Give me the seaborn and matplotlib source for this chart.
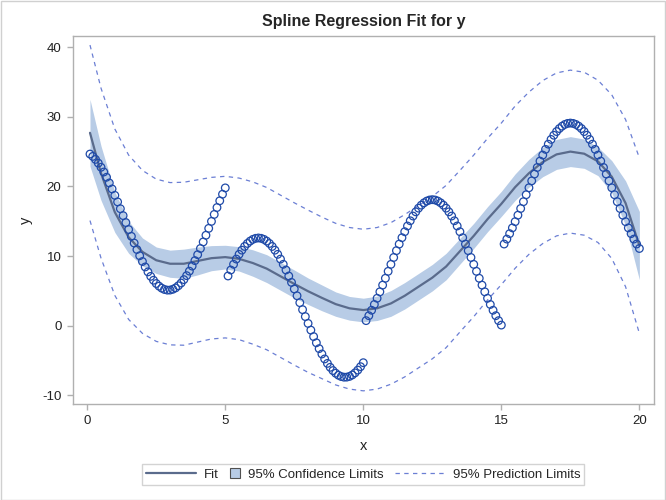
import numpy as np
import pandas as pd
import matplotlib
matplotlib.use('Agg')
import matplotlib.pyplot as plt
from matplotlib.lines import Line2D
from matplotlib.patches import Rectangle
from matplotlib.legend_handler import HandlerBase
import seaborn as sns

# observed points (x from 0.1 to 20 by 0.1)
x_obs = [
    0.1, 0.2, 0.3, 0.4, 0.5, 0.6, 0.7, 0.8, 0.9, 1.0,
    1.1, 1.2, 1.3, 1.4, 1.5, 1.6, 1.7, 1.8, 1.9, 2.0,
    2.1, 2.2, 2.3, 2.4, 2.5, 2.6, 2.7, 2.8, 2.9, 3.0,
    3.1, 3.2, 3.3, 3.4, 3.5, 3.6, 3.7, 3.8, 3.9, 4.0,
    4.1, 4.2, 4.3, 4.4, 4.5, 4.6, 4.7, 4.8, 4.9, 5.0,
    5.1, 5.2, 5.3, 5.4, 5.5, 5.6, 5.7, 5.8, 5.9, 6.0,
    6.1, 6.2, 6.3, 6.4, 6.5, 6.6, 6.7, 6.8, 6.9, 7.0,
    7.1, 7.2, 7.3, 7.4, 7.5, 7.6, 7.7, 7.8, 7.9, 8.0,
    8.1, 8.2, 8.3, 8.4, 8.5, 8.6, 8.7, 8.8, 8.9, 9.0,
    9.1, 9.2, 9.3, 9.4, 9.5, 9.6, 9.7, 9.8, 9.9, 10.0,
    10.1, 10.2, 10.3, 10.4, 10.5, 10.6, 10.7, 10.8, 10.9, 11.0,
    11.1, 11.2, 11.3, 11.4, 11.5, 11.6, 11.7, 11.8, 11.9, 12.0,
    12.1, 12.2, 12.3, 12.4, 12.5, 12.6, 12.7, 12.8, 12.9, 13.0,
    13.1, 13.2, 13.3, 13.4, 13.5, 13.6, 13.7, 13.8, 13.9, 14.0,
    14.1, 14.2, 14.3, 14.4, 14.5, 14.6, 14.7, 14.8, 14.9, 15.0,
    15.1, 15.2, 15.3, 15.4, 15.5, 15.6, 15.7, 15.8, 15.9, 16.0,
    16.1, 16.2, 16.3, 16.4, 16.5, 16.6, 16.7, 16.8, 16.9, 17.0,
    17.1, 17.2, 17.3, 17.4, 17.5, 17.6, 17.7, 17.8, 17.9, 18.0,
    18.1, 18.2, 18.3, 18.4, 18.5, 18.6, 18.7, 18.8, 18.9, 19.0,
    19.1, 19.2, 19.3, 19.4, 19.5, 19.6, 19.7, 19.8, 19.9, 20.0,
]

y_seg1 = [
    24.65, 24.31, 23.88, 23.35, 22.75, 22.07, 21.32, 20.50, 19.64, 18.72,
    17.78, 16.80, 15.81, 14.81, 13.81, 12.83, 11.87, 10.94, 10.05, 9.22,
    8.44, 7.73, 7.09, 6.53, 6.06, 5.68, 5.39, 5.20, 5.11, 5.12,
    5.23, 5.43, 5.74, 6.13, 6.62, 7.19, 7.84, 8.56, 9.35, 10.20,
    11.09, 12.03, 12.99, 13.98, 14.98, 15.98, 16.97, 17.94, 18.88, 19.79,
]
y_seg2 = [
    7.14, 8.00, 8.82, 9.57, 10.25, 10.85, 11.38, 11.81, 12.15, 12.40,
    12.55, 12.60, 12.55, 12.40, 12.15, 11.81, 11.38, 10.85, 10.25, 9.57,
    8.82, 8.00, 7.14, 6.22, 5.28, 4.30, 3.31, 2.31, 1.31, 0.33,
    -0.63, -1.56, -2.45, -3.29, -4.06, -4.77, -5.41, -5.97, -6.44, -6.82,
    -7.11, -7.30, -7.39, -7.38, -7.28, -7.07, -6.77, -6.37, -5.88, -5.31,
]
y_seg3 = [
    0.73, 1.44, 2.22, 3.05, 3.94, 4.87, 5.83, 6.81, 7.81, 8.81,
    9.80, 10.78, 11.72, 12.64, 13.50, 14.32, 15.07, 15.75, 16.35, 16.88,
    17.31, 17.65, 17.90, 18.05, 18.10, 18.05, 17.90, 17.65, 17.31, 16.88,
    16.35, 15.75, 15.07, 14.32, 13.50, 12.64, 11.72, 10.78, 9.80, 8.81,
    7.81, 6.81, 5.83, 4.87, 3.94, 3.05, 2.22, 1.44, 0.73, 0.09,
]
y_seg4 = [
    11.73, 12.44, 13.22, 14.05, 14.94, 15.87, 16.83, 17.81, 18.81, 19.81,
    20.80, 21.78, 22.72, 23.64, 24.50, 25.32, 26.07, 26.75, 27.35, 27.88,
    28.31, 28.65, 28.90, 29.05, 29.10, 29.05, 28.90, 28.65, 28.31, 27.88,
    27.35, 26.75, 26.07, 25.32, 24.50, 23.64, 22.72, 21.78, 20.80, 19.81,
    18.81, 17.81, 16.83, 15.87, 14.94, 14.05, 13.22, 12.44, 11.73, 11.09,
]

# spline fit with 95% confidence and prediction limits
fit_x = [0.1, 0.5, 1.0, 1.5, 2.0, 2.5, 3.0, 3.5, 4.0, 4.5,
         5.0, 5.5, 6.0, 6.5, 7.0, 7.5, 8.0, 8.5, 9.0, 9.5,
         10.0, 10.5, 11.0, 11.5, 12.0, 12.5, 13.0, 13.5, 14.0, 14.5,
         15.0, 15.5, 16.0, 16.5, 17.0, 17.5, 18.0, 18.5, 19.0, 19.5, 20.0]
fit_y = [27.7, 21.9, 16.3, 12.7, 10.6, 9.4, 8.9, 8.9, 9.3, 9.7,
         9.85, 9.6, 9.0, 8.2, 7.1, 6.0, 4.95, 4.0, 3.1, 2.5,
         2.25, 2.5, 3.2, 4.3, 5.6, 6.9, 8.5, 10.7, 12.9, 15.3,
         17.5, 19.9, 21.9, 23.5, 24.6, 25.0, 24.7, 23.6, 21.4, 17.6, 11.5]
clm_lo = [22.9, 18.0, 13.4, 10.4, 8.6, 7.5, 6.95, 6.8, 7.3, 7.9,
          8.15, 7.85, 7.1, 6.2, 5.1, 4.0, 3.05, 2.15, 1.35, 0.8,
          0.55, 0.75, 1.35, 2.4, 3.7, 5.0, 6.6, 8.85, 11.1, 13.5,
          15.7, 18.0, 19.9, 21.4, 22.45, 22.85, 22.6, 21.55, 19.1, 14.4, 6.6]
clm_hi = [32.5, 25.8, 19.2, 15.0, 12.6, 11.3, 10.85, 11.0, 11.3, 11.5,
          11.55, 11.35, 10.9, 10.2, 9.1, 8.0, 6.85, 5.85, 4.85, 4.2,
          3.95, 4.25, 5.05, 6.2, 7.5, 8.8, 10.4, 12.55, 14.7, 17.1,
          19.3, 21.8, 23.9, 25.6, 26.75, 27.15, 26.8, 25.65, 23.7, 20.8, 16.4]
pred_lo = [15.1, 9.7, 4.35, 0.9, -1.1, -2.25, -2.75, -2.8, -2.35, -1.9,
           -1.75, -2.0, -2.65, -3.45, -4.55, -5.65, -6.7, -7.6, -8.5, -9.1,
           -9.35, -9.1, -8.4, -7.35, -6.05, -4.75, -3.15, -0.9, 1.3, 3.7,
           5.9, 8.25, 10.25, 11.8, 12.9, 13.3, 13.0, 11.95, 9.65, 5.6, -1.1]
pred_hi = [40.3, 34.1, 28.25, 24.5, 22.3, 21.05, 20.55, 20.6, 20.95, 21.3,
           21.45, 21.2, 20.65, 19.85, 18.75, 17.65, 16.6, 15.6, 14.7, 14.1,
           13.85, 14.1, 14.8, 15.95, 17.25, 18.55, 20.15, 22.3, 24.5, 26.9,
           29.1, 31.55, 33.55, 35.2, 36.3, 36.7, 36.4, 35.25, 33.15, 29.6, 24.1]

obs = pd.DataFrame({'x': x_obs, 'y': y_seg1 + y_seg2 + y_seg3 + y_seg4})
fit = pd.DataFrame({'x': fit_x, 'fit': fit_y, 'lclm': clm_lo, 'uclm': clm_hi,
                    'lcl': pred_lo, 'ucl': pred_hi})

sns.set_style('white')
plt.rcParams['font.family'] = ['Liberation Sans', 'DejaVu Sans']
plt.rcParams['axes.unicode_minus'] = False

band_col = '#b8cce6'
fit_col = '#5a6b8c'
pred_col = '#6b7fd4'
pt_col = '#1f4aa8'
axis_col = '#b0b0b0'
dash = (0, (3.5, 3.5))


class SquareHandler(HandlerBase):
    # small square swatch, narrower than the line handles
    def legend_artist(self, legend, orig_handle, fontsize, handlebox):
        size = 7.4
        handlebox.width = size
        y0 = -handlebox.ydescent + (handlebox.height - size) / 2
        sq = Rectangle((0, y0), size, size, facecolor=band_col,
                       edgecolor='#505050', lw=0.8, transform=handlebox.get_transform())
        handlebox.add_artist(sq)
        return sq


fig = plt.figure(figsize=(6.66, 5), dpi=100)
ax = fig.add_axes([0.109, 0.192, 0.873, 0.736])

ax.fill_between(fit['x'], fit['lclm'], fit['uclm'], color=band_col, lw=0, zorder=1)
sns.lineplot(data=fit, x='x', y='fit', color=fit_col, lw=1.6, ax=ax, zorder=2)
sns.lineplot(data=fit, x='x', y='lcl', color=pred_col, lw=0.9, ax=ax, zorder=2)
sns.lineplot(data=fit, x='x', y='ucl', color=pred_col, lw=0.9, ax=ax, zorder=2)
for ln in ax.lines[1:]:
    ln.set_linestyle(dash)
sns.scatterplot(data=obs, x='x', y='y', s=30, marker='o', facecolor='none',
                edgecolor=pt_col, linewidth=0.9, ax=ax, zorder=3)

ax.set_xlim(-0.53, 20.53)
ax.set_ylim(-11.24, 41.6)
ax.set_xticks([0, 5, 10, 15, 20])
ax.set_yticks([-10, 0, 10, 20, 30, 40])
for sp in ax.spines.values():
    sp.set_color(axis_col)
    sp.set_linewidth(1)
ax.tick_params(axis='both', direction='out', length=4.5, width=1, color=axis_col,
               labelsize=9.5, labelcolor='#222222', pad=3.5)
ax.tick_params(top=False, right=False, left=True, bottom=True)
ax.set_xlabel('x', fontsize=10.5, color='#222222', labelpad=8.5)
ax.set_ylabel('y', fontsize=10.5, color='#222222', labelpad=6.5)
ax.set_title('Spline Regression Fit for y', fontsize=11.5, fontweight='bold', pad=7)

handles = [
    Line2D([], [], color=fit_col, lw=1.6),
    Rectangle((0, 0), 1, 1),
    Line2D([], [], color=pred_col, lw=0.9, ls=dash),
]
labels = ['Fit', '95% Confidence Limits', '95% Prediction Limits']
leg = fig.legend(handles, labels, loc='center', bbox_to_anchor=(0.545, 0.051),
                 ncol=3, frameon=True, fancybox=False, fontsize=9.5,
                 handlelength=3.8, handletextpad=0.6, columnspacing=0.85,
                 borderpad=0.3, edgecolor='#c8c8c8',
                 handler_map={Rectangle: SquareHandler()})
leg.get_frame().set_linewidth(1)

fig.patches.append(Rectangle((0.001, 0.001), 0.997, 0.997, transform=fig.transFigure,
                             fill=False, edgecolor='#d0d0d0', lw=1))

fig.savefig('out.png', dpi=100)
